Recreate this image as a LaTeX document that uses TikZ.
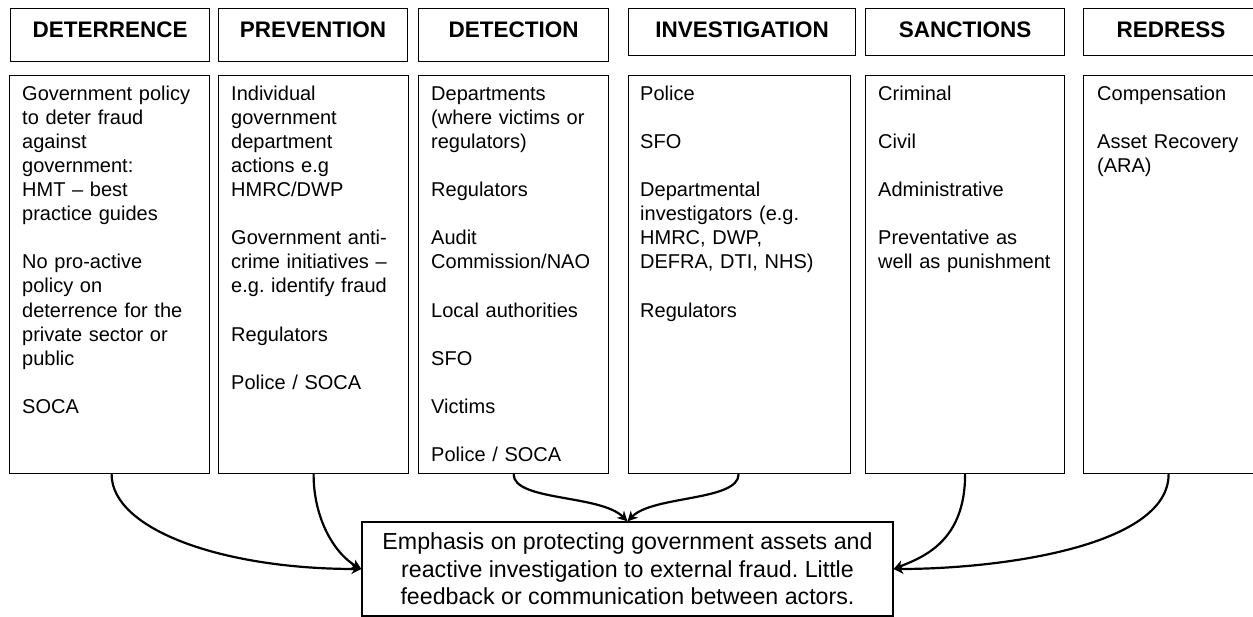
\documentclass[tikz,border=0pt]{standalone}
\usepackage{fontspec}
\setmainfont{Liberation Sans}
\usetikzlibrary{arrows.meta,calc}
\newlength{\parg}
\setlength{\parg}{24.1pt}
\frenchspacing
\begin{document}
\begin{tikzpicture}[x=1pt,y=-1pt,
  headbox/.style={draw, line width=1.2pt, inner sep=0pt, anchor=north west,
    font=\fontsize{22.5}{27}\selectfont\bfseries, text height=16pt},
  tallhead/.style={headbox, minimum height=53pt, text depth=11pt},
  shorthead/.style={headbox, minimum height=47pt, text depth=5pt},
  bodybox/.style={draw, line width=1.2pt, inner sep=0pt, anchor=north west, minimum height=398pt},
  bodytext/.style={inner sep=0pt, anchor=north west, align=left,
    font=\fontsize{20}{24.1}\selectfont\frenchspacing},
  sumbox/.style={draw, line width=1.2pt, inner sep=0pt, minimum width=531pt, minimum height=94pt,
    align=center, font=\fontsize{23.2}{27.5}\selectfont\frenchspacing},
  conn/.style={line width=2.2pt, -{Stealth[length=10pt,width=10pt,inset=3pt]}}
]
\useasboundingbox (0,0) rectangle (1253,617);
\fill[white] (0,0) rectangle (1253,617);

% header boxes
\node[tallhead, minimum width=199pt] (detH) at (10,8) {DETERRENCE};
\node[tallhead, minimum width=189pt] (preH) at (218,8) {PREVENTION};
\node[tallhead, minimum width=190pt] (dtcH) at (418,8) {DETECTION};
\node[shorthead, minimum width=227pt] (invH) at (628,8) {INVESTIGATION};
\node[shorthead, minimum width=199pt] (sanH) at (865,8) {SANCTIONS};
\node[shorthead, minimum width=175pt] (redH) at (1083,8) {REDRESS};

% body boxes
\node[bodybox, minimum width=200pt] (detB) at (9,75) {};
\node[bodybox, minimum width=190pt] (preB) at (218,75) {};
\node[bodybox, minimum width=190pt] (dtcB) at (418,75) {};
\node[bodybox, minimum width=222pt] (invB) at (628,75) {};
\node[bodybox, minimum width=199pt] (sanB) at (865,75) {};
\node[bodybox, minimum width=172pt] (redB) at (1083,75) {};

% body texts
\node[bodytext, text width=182pt] (detT) at ($(detB.north west)+(13,8.1)$) {\strut Government policy\\ to deter fraud\\ against\\ government:\\ HMT – best\\ practice guides\\[\parg] No pro-active\\ policy on\\ deterrence for the\\ private sector or\\ public\\[\parg] SOCA};
\node[bodytext, text width=172pt] (preT) at ($(preB.north west)+(13,8.1)$) {\strut Individual\\ government\\ department\\ actions e.g\\ HMRC/DWP\\[\parg] Government anti-\\ crime initiatives –\\ e.g. identify fraud\\[\parg] Regulators\\[\parg] Police / SOCA};
\node[bodytext, text width=172pt] (dtcT) at ($(dtcB.north west)+(13,8.1)$) {\strut Departments\\ (where victims or\\ regulators)\\[\parg] Regulators\\[\parg] Audit\\ Commission/NAO\\[\parg] Local authorities\\[\parg] SFO\\[\parg] Victims\\[\parg] Police / SOCA};
\node[bodytext, text width=204pt] (invT) at ($(invB.north west)+(12,8.1)$) {\strut Police\\[\parg] SFO\\[\parg] Departmental\\ investigators (e.g.\\ HMRC, DWP,\\ DEFRA, DTI, NHS)\\[\parg] Regulators};
\node[bodytext, text width=182pt] (sanT) at ($(sanB.north west)+(13,8.1)$) {\strut Criminal\\[\parg] Civil\\[\parg] Administrative\\[\parg] Preventative as\\ well as punishment};
\node[bodytext, text width=155pt] (redT) at ($(redB.north west)+(14,8.1)$) {\strut Compensation\\[\parg] Asset Recovery\\ (ARA)};

% summary box
\node[sumbox] (sum) at (627.5,569) {Emphasis on protecting government assets and\\ reactive investigation to external fraud. Little\\ feedback or communication between actors.};

% connectors
\draw[conn] ([xshift=2pt]detB.south) .. controls +(0,55) and +(-140,0) .. (sum.west);
\draw[conn] (preB.south) .. controls +(0,47) and +(-25,-14) .. (sum.west);
\draw[conn] (dtcB.south) .. controls +(0,27) and +(-27,-27) .. (sum.north);
\draw[conn] ([xshift=-1pt]invB.south) .. controls +(0,27) and +(25,-26) .. (sum.north);
\draw[conn] (sanB.south) .. controls +(0,67) and +(30,-12) .. (sum.east);
\draw[conn] ([xshift=-1pt]redB.south) .. controls +(0,72) and +(107,0) .. (sum.east);
\end{tikzpicture}
\end{document}
